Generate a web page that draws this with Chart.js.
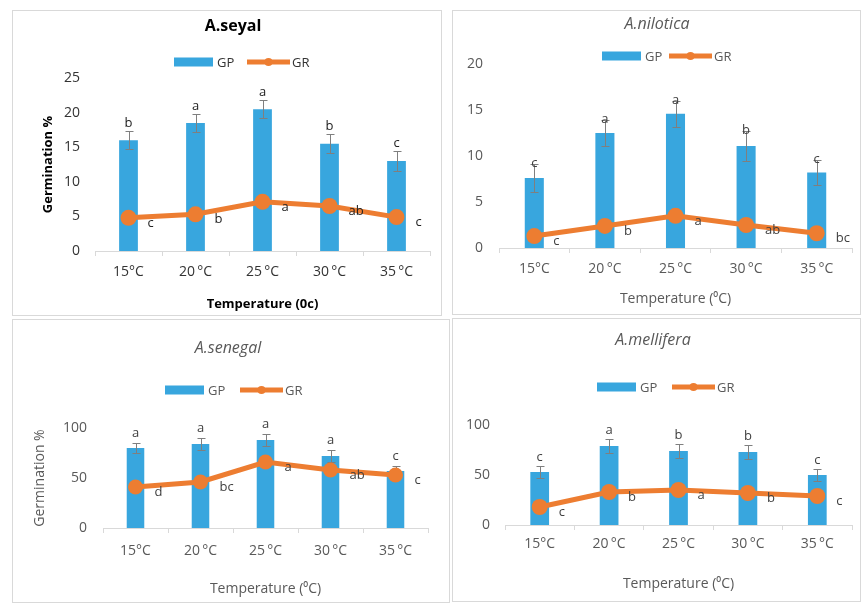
<!DOCTYPE html>
<html>
<head>
<meta charset="utf-8">
<script src="https://cdn.jsdelivr.net/npm/chart.js@4.4.1/dist/chart.umd.min.js"></script>
<style>
  body { margin: 0; background: #fff; width: 861px; height: 605px; position: relative; overflow: hidden; }
  .panel { position: absolute; border: 1px solid #d9d9d9; box-sizing: border-box; background: #fff; }
  .panel canvas { position: absolute; left: 0; top: 0; }
</style>
</head>
<body>
<div class="panel" style="left:12px;top:10px;width:430px;height:306px"><canvas id="seyal"></canvas></div>
<div class="panel" style="left:452px;top:10px;width:409px;height:305px"><canvas id="nilotica"></canvas></div>
<div class="panel" style="left:12px;top:319px;width:438px;height:284px"><canvas id="senegal"></canvas></div>
<div class="panel" style="left:452px;top:318px;width:409px;height:284px"><canvas id="mellifera"></canvas></div>
<script>
const temps = ["15°C", "20\u2009°C", "25\u2009°C", "30\u2009°C", "35\u2009°C"];

// A.seyal
const seyalGP = [16.0, 18.5, 20.5, 15.5, 13.0];
const seyalErr = [1.3, 1.3, 1.3, 1.4, 1.4];
const seyalGR = [4.8, 5.3, 7.1, 6.5, 4.9];
const seyalGPLetters = ["b", "a", "a", "b", "c"];
const seyalGRLetters = ["c", "b", "a", "ab", "c"];

// A.nilotica
const niloticaGP = [7.6, 12.5, 14.6, 11.1, 8.2];
const niloticaErr = [1.5, 1.4, 1.4, 1.6, 1.4];
const niloticaGR = [1.3, 2.4, 3.5, 2.5, 1.6];
const niloticaGPLetters = ["c", "a", "a", "b", "c"];
const niloticaGRLetters = ["c", "b", "a", "ab", "bc"];

// A.senegal
const senegalGP = [80, 84, 88, 72, 57];
const senegalErr = [5, 6, 6, 6, 5];
const senegalGR = [41, 46, 66, 58, 53];
const senegalGPLetters = ["a", "a", "a", "a", "c"];
const senegalGRLetters = ["d", "bc", "a", "ab", "c"];

// A.mellifera
const melliferaGP = [53, 79, 74, 73, 50];
const melliferaErr = [6, 7, 7, 7, 6];
const melliferaGR = [18, 33, 35, 32, 29];
const melliferaGPLetters = ["c", "a", "b", "b", "c"];
const melliferaGRLetters = ["c", "b", "a", "b", "c"];

const FONT = "'Open Sans', 'Liberation Sans', sans-serif";
const BLUE = "#38a6de";
const ORANGE = "#ed7d31";

// error bars, letters, title and legend for one panel
const decor = (o) => ({
  id: "decor",
  afterDatasetDraw(chart, args) {
    if (args.index !== 0) return;
    const ctx = chart.ctx;
    const y = chart.scales.y;
    ctx.save();
    ctx.strokeStyle = "#7f7f7f";
    ctx.lineWidth = 1;
    chart.getDatasetMeta(0).data.forEach((bar, i) => {
      const top = Math.round(y.getPixelForValue(o.gp[i] + o.err[i])) + 0.5;
      const bot = Math.round(y.getPixelForValue(o.gp[i] - o.err[i])) + 0.5;
      const x = Math.round(bar.x) + 0.5;
      ctx.beginPath();
      ctx.moveTo(x, top); ctx.lineTo(x, bot);
      ctx.moveTo(x - 4, top); ctx.lineTo(x + 4, top);
      ctx.moveTo(x - 4, bot); ctx.lineTo(x + 4, bot);
      ctx.stroke();
    });
    ctx.restore();
  },
  afterDatasetsDraw(chart) {
    const ctx = chart.ctx;
    const y = chart.scales.y;
    ctx.save();
    ctx.font = "13px " + FONT;
    ctx.fillStyle = o.letterColor;
    ctx.textBaseline = "alphabetic";
    ctx.textAlign = "center";
    chart.getDatasetMeta(0).data.forEach((bar, i) => {
      const cap = y.getPixelForValue(o.gp[i] + o.err[i]);
      ctx.fillText(o.gpLetters[i], bar.x, cap + o.letterGap);
    });
    ctx.textAlign = "left";
    chart.getDatasetMeta(1).data.forEach((pt, i) => {
      ctx.fillText(o.grLetters[i], pt.x + 19, pt.y + 9);
    });

    // title
    ctx.textAlign = "center";
    ctx.textBaseline = "middle";
    ctx.fillStyle = o.titleColor;
    ctx.font = o.titleFont;
    ctx.fillText(o.title, o.titleX, o.titleY);

    // legend
    const ly = o.legendY;
    ctx.fillStyle = BLUE;
    ctx.fillRect(o.gpX, ly - 4.5, 39, 9);
    ctx.strokeStyle = ORANGE;
    ctx.lineWidth = 5;
    ctx.beginPath();
    ctx.moveTo(o.grX, ly); ctx.lineTo(o.grX + 43, ly);
    ctx.stroke();
    ctx.fillStyle = ORANGE;
    ctx.beginPath();
    ctx.arc(o.grX + 21.5, ly, 4, 0, Math.PI * 2);
    ctx.fill();
    ctx.font = "13px " + FONT;
    ctx.fillStyle = o.tickColor;
    ctx.textAlign = "left";
    ctx.fillText("GP", o.gpX + 43, ly + 1);
    ctx.fillText("GR", o.grX + 45, ly + 1);
    ctx.restore();
  },
});

const makeChart = (id, o) => {
  const canvas = document.getElementById(id);
  const box = canvas.parentElement;
  canvas.width = box.clientWidth;
  canvas.height = box.clientHeight;

  new Chart(canvas, {
    data: {
      labels: temps,
      datasets: [
        {
          type: "bar",
          label: "GP",
          data: o.gp,
          backgroundColor: BLUE,
          barPercentage: 1,
          categoryPercentage: o.barPct,
          order: 1,
        },
        {
          type: "line",
          label: "GR",
          data: o.gr,
          borderColor: ORANGE,
          backgroundColor: ORANGE,
          borderWidth: 5,
          pointRadius: o.pointR,
          pointBorderWidth: 0,
          pointBackgroundColor: ORANGE,
          tension: 0,
          order: 0,
        },
      ],
    },
    options: {
      responsive: false,
      animation: false,
      events: [],
      layout: { padding: { top: o.top, left: 0, right: o.right, bottom: 0 } },
      plugins: { legend: { display: false }, tooltip: { enabled: false } },
      scales: {
        x: {
          offset: true,
          grid: { display: true, drawOnChartArea: false, drawTicks: true, tickLength: 5, offset: true, color: "#d9d9d9" },
          border: { display: true, color: "#d9d9d9" },
          ticks: { padding: o.xPad, color: o.tickColor, font: { family: FONT, size: 14 }, maxRotation: 0 },
          title: {
            display: true,
            text: o.xTitle,
            color: o.axisTitleColor,
            font: { family: FONT, size: o.xTitleSize, weight: o.axisTitleWeight },
            padding: { top: 0, bottom: o.xTitlePad },
          },
          afterFit: (s) => { s.height = o.xH; },
        },
        y: {
          min: 0,
          max: o.yMax,
          grid: { display: false, drawTicks: false },
          border: { display: false },
          ticks: { stepSize: o.step, padding: o.yPad, color: o.tickColor, font: { family: FONT, size: 14 } },
          title: {
            display: !!o.yTitle,
            text: o.yTitle,
            color: o.axisTitleColor,
            font: { family: FONT, size: o.yTitleSize, weight: o.axisTitleWeight },
            padding: { top: o.yTitlePad, bottom: 0 },
          },
          afterFit: (s) => { s.width = o.yW; },
        },
      },
    },
    plugins: [decor(o)],
  });
};

makeChart("seyal", {
  gp: seyalGP, err: seyalErr, gr: seyalGR, gpLetters: seyalGPLetters, grLetters: seyalGRLetters,
  title: "A.seyal", titleFont: "bold 16px " + FONT, titleColor: "#000", titleX: 220, titleY: 15,
  legendY: 51, gpX: 161, grX: 234,
  top: 67, right: 11, yW: 82, xH: 64, yMax: 25, step: 5, yPad: 15, xPad: 8,
  xTitle: "Temperature (0c)", xTitleSize: 13, xTitlePad: 3,
  yTitle: "Germination %", yTitleSize: 13, yTitlePad: 27,
  axisTitleWeight: "bold", axisTitleColor: "#000",
  tickColor: "#333", letterColor: "#222", letterGap: -4, barPct: 0.28, pointR: 8,
});

makeChart("nilotica", {
  gp: niloticaGP, err: niloticaErr, gr: niloticaGR, gpLetters: niloticaGPLetters, grLetters: niloticaGRLetters,
  title: "A.nilotica", titleFont: "italic 16px " + FONT, titleColor: "#595959", titleX: 204, titleY: 13,
  legendY: 45, gpX: 149, grX: 216,
  top: 53, right: 1, yW: 46, xH: 66, yMax: 20, step: 5, yPad: 16, xPad: 8,
  xTitle: "Temperature (⁰C)", xTitleSize: 14, xTitlePad: 7,
  yTitle: "", yTitleSize: 13, yTitlePad: 0,
  axisTitleWeight: "normal", axisTitleColor: "#595959",
  tickColor: "#595959", letterColor: "#404040", letterGap: 3, barPct: 0.27, pointR: 8,
});

makeChart("senegal", {
  gp: senegalGP, err: senegalErr, gr: senegalGR, gpLetters: senegalGPLetters, grLetters: senegalGRLetters,
  title: "A.senegal", titleFont: "italic 16px " + FONT, titleColor: "#595959", titleX: 215, titleY: 28,
  legendY: 70, gpX: 152, grX: 227,
  top: 108, right: 21, yW: 90, xH: 74, yMax: 100, step: 50, yPad: 16, xPad: 10,
  xTitle: "Temperature (⁰C)", xTitleSize: 14, xTitlePad: 5,
  yTitle: "Germination %", yTitleSize: 14, yTitlePad: 19,
  axisTitleWeight: "normal", axisTitleColor: "#595959",
  tickColor: "#595959", letterColor: "#404040", letterGap: -6, barPct: 0.27, pointR: 7.5,
});

makeChart("mellifera", {
  gp: melliferaGP, err: melliferaErr, gr: melliferaGR, gpLetters: melliferaGPLetters, grLetters: melliferaGRLetters,
  title: "A.mellifera", titleFont: "italic 16px " + FONT, titleColor: "#595959", titleX: 200, titleY: 21,
  legendY: 68, gpX: 144, grX: 219,
  top: 106, right: 8, yW: 52, xH: 76, yMax: 100, step: 50, yPad: 15, xPad: 6,
  xTitle: "Temperature (⁰C)", xTitleSize: 14, xTitlePad: 9,
  yTitle: "", yTitleSize: 13, yTitlePad: 0,
  axisTitleWeight: "normal", axisTitleColor: "#595959",
  tickColor: "#595959", letterColor: "#404040", letterGap: -5, barPct: 0.27, pointR: 8,
});
</script>
</body>
</html>
